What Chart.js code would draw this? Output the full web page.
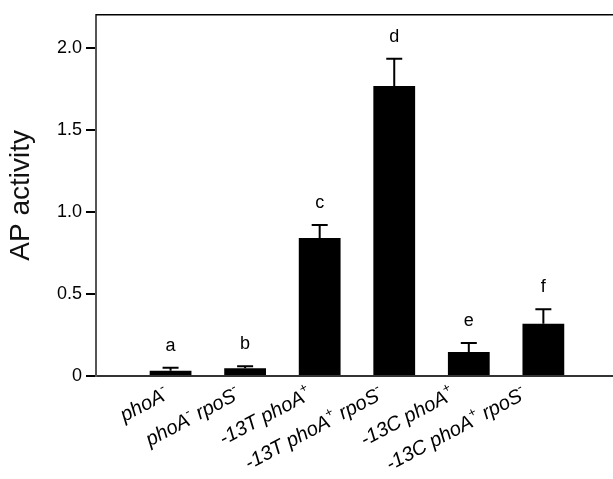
<!DOCTYPE html>
<html>
<head>
<meta charset="utf-8">
<script src="https://cdn.jsdelivr.net/npm/chart.js@4.4.1/dist/chart.umd.min.js"></script>
<style>
html,body{margin:0;padding:0;background:#fff;}
#c{display:block;}
</style>
</head>
<body>
<canvas id="c" width="613" height="479"></canvas>
<script>
const categories = ['phoA⁻', 'phoA⁻ rpoS⁻', '-13T phoA⁺', '-13T phoA⁺ rpoS⁻', '-13C phoA⁺', '-13C phoA⁺ rpoS⁻'];
const values = [0.032, 0.047, 0.84, 1.767, 0.146, 0.318];
const errors = [0.018, 0.013, 0.08, 0.166, 0.055, 0.089];
const letters = ['a', 'b', 'c', 'd', 'e', 'f'];
const yTicks = [0, 0.5, 1, 1.5, 2];
const yTickLabels = ['0', '0.5', '1.0', '1.5', '2.0'];
const yTitle = 'AP activity';

const FONT = '"Liberation Sans", Arial, Helvetica, sans-serif';

const points = values.map((v, i) => ({ x: i + 1, y: v }));

const extras = {
  id: 'extras',
  afterDatasetsDraw(chart) {
    const ctx = chart.ctx;
    const xs = chart.scales.x, ys = chart.scales.y;
    const area = chart.chartArea;
    ctx.save();
    // top frame line
    ctx.strokeStyle = '#000';
    ctx.lineWidth = 1.5;
    ctx.beginPath();
    ctx.moveTo(area.left, area.top);
    ctx.lineTo(area.right, area.top);
    ctx.stroke();
    // error bars + letters
    ctx.lineWidth = 2;
    values.forEach((v, i) => {
      const x = xs.getPixelForValue(i + 1);
      const y0 = ys.getPixelForValue(v);
      const y1 = ys.getPixelForValue(v + errors[i]);
      ctx.beginPath();
      ctx.moveTo(x, y0);
      ctx.lineTo(x, y1);
      ctx.moveTo(x - 8, y1);
      ctx.lineTo(x + 8, y1);
      ctx.stroke();
      ctx.fillStyle = '#000';
      ctx.font = '18px ' + FONT;
      ctx.textAlign = 'center';
      ctx.textBaseline = 'middle';
      ctx.fillText(letters[i], x, y1 - 22);
    });
    // x category labels (italic, rotated, with superscripts)
    const supMap = { '⁻': '-', '⁺': '+' };
    categories.forEach((lab, i) => {
      const x = xs.getPixelForValue(i + 1);
      const segs = [];
      for (const ch of lab) {
        const sup = ch in supMap;
        const last = segs[segs.length - 1];
        if (last && last.sup === sup) last.t += sup ? supMap[ch] : ch;
        else segs.push({ t: sup ? supMap[ch] : ch, sup });
      }
      const nf = 'italic 20px ' + FONT;
      const sf = 'italic 13px ' + FONT;
      let total = 0;
      segs.forEach(s => { ctx.font = s.sup ? sf : nf; s.w = ctx.measureText(s.t).width; total += s.w; });
      ctx.save();
      ctx.translate(x - 1 - 3 * i, area.bottom + 22);
      ctx.rotate(-28 * Math.PI / 180);
      ctx.textAlign = 'left';
      ctx.textBaseline = 'alphabetic';
      ctx.fillStyle = '#000';
      let cx = -total;
      segs.forEach(s => {
        ctx.font = s.sup ? sf : nf;
        ctx.fillText(s.t, cx, s.sup ? -9 : 0);
        cx += s.w;
      });
      ctx.restore();
    });
    ctx.restore();
  }
};

new Chart(document.getElementById('c'), {
  type: 'bar',
  data: {
    datasets: [{
      data: points,
      backgroundColor: '#000',
      borderWidth: 0,
      barPercentage: 0.6,
      categoryPercentage: 1.0
    }]
  },
  options: {
    responsive: false,
    animation: false,
    devicePixelRatio: 1,
    layout: { padding: { top: 13, left: 0, right: 0, bottom: 0 } },
    plugins: { legend: { display: false }, tooltip: { enabled: false } },
    scales: {
      x: {
        type: 'linear',
        offset: false,
        min: 0,
        max: 6.934,
        grid: { display: false, drawTicks: false, offset: false },
        border: { display: true, color: '#333', width: 2 },
        ticks: { display: false },
        afterFit(s) { s.height = 103; }
      },
      y: {
        min: 0,
        max: 2.2,
        afterBuildTicks(s) { s.ticks = yTicks.map(v => ({ value: v })); },
        afterFit(s) { s.width = 96; },
        grid: { drawOnChartArea: false, drawTicks: true, tickLength: 10, color: '#000', lineWidth: 2 },
        border: { display: true, color: '#555', width: 2 },
        ticks: {
          padding: 4,
          color: '#000',
          font: { family: FONT, size: 18 },
          callback(v, idx) { return yTickLabels[idx]; }
        },
        title: {
          display: true,
          text: yTitle,
          color: '#111',
          font: { family: FONT, size: 28 },
          padding: { top: 4, bottom: 0 }
        }
      }
    }
  },
  plugins: [extras]
});
</script>
</body>
</html>
